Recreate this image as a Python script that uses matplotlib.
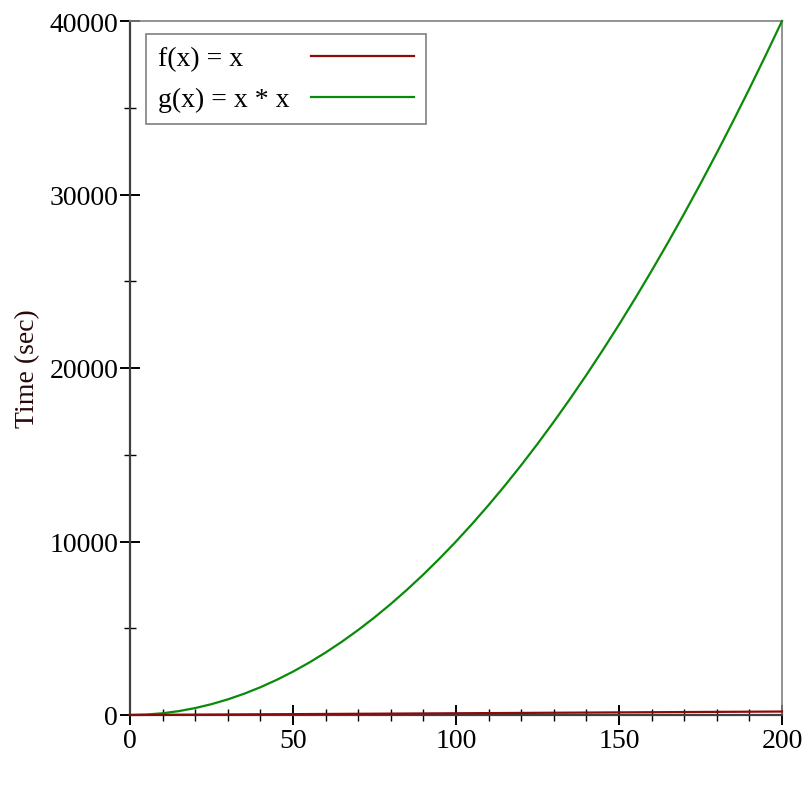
import matplotlib
matplotlib.use("Agg")
import matplotlib.pyplot as plt
from matplotlib.ticker import MultipleLocator

plt.rcParams['font.family'] = ['Liberation Serif', 'DejaVu Serif']

# values
x_vals = [0, 5, 10, 15, 20, 25, 30, 35, 40, 45, 50, 55, 60, 65, 70, 75, 80, 85, 90, 95, 100,
          105, 110, 115, 120, 125, 130, 135, 140, 145, 150, 155, 160, 165, 170, 175, 180,
          185, 190, 195, 200]
f_vals = [0, 5, 10, 15, 20, 25, 30, 35, 40, 45, 50, 55, 60, 65, 70, 75, 80, 85, 90, 95, 100,
          105, 110, 115, 120, 125, 130, 135, 140, 145, 150, 155, 160, 165, 170, 175, 180,
          185, 190, 195, 200]
g_vals = [0, 25, 100, 225, 400, 625, 900, 1225, 1600, 2025, 2500, 3025, 3600, 4225, 4900,
          5625, 6400, 7225, 8100, 9025, 10000, 11025, 12100, 13225, 14400, 15625, 16900,
          18225, 19600, 21025, 22500, 24025, 25600, 27225, 28900, 30625, 32400, 34225,
          36100, 38025, 40000]
series_labels = ["f(x) = x", "g(x) = x * x"]
y_label = "Time (sec)"

RED = "#8b0a0a"
GREEN = "#0a8a0a"
FS = 20

fig = plt.figure(figsize=(8.12, 8.12), dpi=100)
ax = fig.add_axes([130 / 812, 1 - 716 / 812, 652 / 812, 694 / 812])

ax.plot(x_vals, g_vals, color=GREEN, linewidth=1.6, label=series_labels[1], zorder=3, clip_on=False)
ax.plot(x_vals, f_vals, color=RED, linewidth=1.6, label=series_labels[0], zorder=4, clip_on=False)

ax.set_xlim(0, 200)
ax.set_ylim(0, 40000)

ax.xaxis.set_major_locator(MultipleLocator(50))
ax.xaxis.set_minor_locator(MultipleLocator(10))
ax.yaxis.set_major_locator(MultipleLocator(10000))
ax.yaxis.set_minor_locator(MultipleLocator(5000))

ax.tick_params(which='major', direction='inout', length=15, width=1.4, color='black',
               labelsize=FS, pad=1)
ax.tick_params(which='minor', direction='inout', length=8.5, width=1.0, color='black')
ax.tick_params(axis='x', which='major', pad=2)

for side in ['left', 'bottom']:
    ax.spines[side].set_color('#404040')
    ax.spines[side].set_linewidth(1.6)
for side in ['top', 'right']:
    ax.spines[side].set_color('#808080')
    ax.spines[side].set_linewidth(1.2)

ax.set_ylabel(y_label, fontsize=FS, color='#2a0808')
ax.yaxis.set_label_coords(-0.138, 0.5)

handles, labels = ax.get_legend_handles_labels()
order = [1, 0]
TEXTPAD = 0.8
leg = ax.legend([handles[i] for i in order], [labels[i] for i in order],
                loc='upper left', bbox_to_anchor=(0.0245, 0.981), borderaxespad=0,
                fontsize=FS, markerfirst=False, handlelength=3.7, handletextpad=TEXTPAD,
                borderpad=0.42, labelspacing=0.56, fancybox=False, framealpha=1,
                edgecolor='#808080')
leg.get_frame().set_linewidth(1.2)

# left-align the labels and keep the line samples lined up on the right
fig.canvas.draw()
renderer = fig.canvas.get_renderer()
widths = [t.get_window_extent(renderer).width for t in leg.get_texts()]
rows = []
for col in leg._legend_handle_box.get_children():
    col.align = 'left'
    rows.extend(col.get_children())
for row, w in zip(rows, widths):
    row.sep = TEXTPAD * FS + (max(widths) - w) * 72 / fig.dpi

fig.savefig("out.png", dpi=100)
